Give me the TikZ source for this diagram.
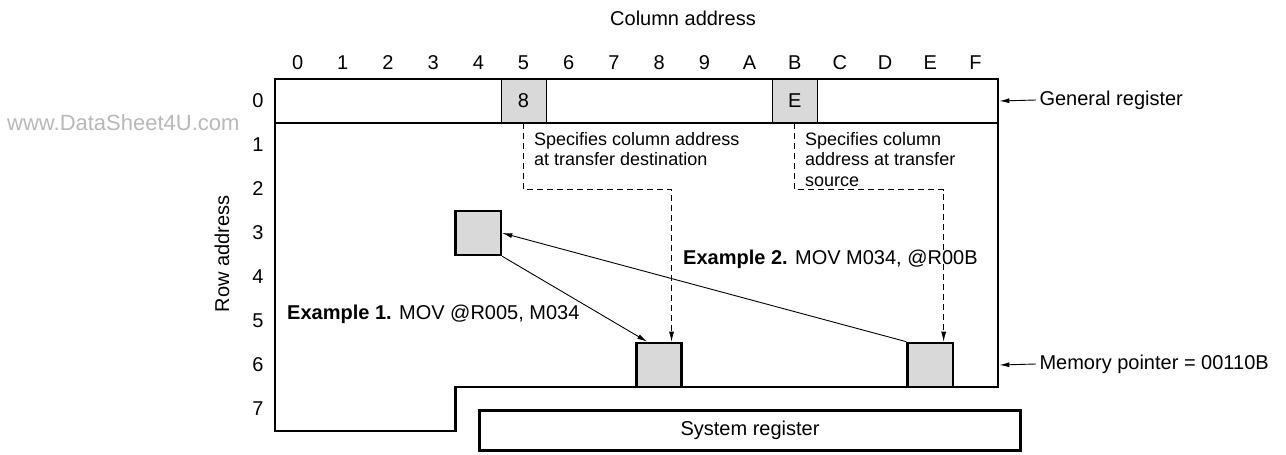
\documentclass[tikz,border=0pt]{standalone}
\usepackage{fontspec}
\setmainfont{Liberation Sans}
\usetikzlibrary{arrows.meta}
\usetikzlibrary{calc}

\begin{document}
\begin{tikzpicture}[x=1pt, y=-1pt, font=\fontsize{20}{24}\selectfont,
        frame/.style={line width=2.6pt},
        memcell/.style={draw, line width=2.6pt, fill=black!15, minimum width=45.2pt, minimum height=44pt, inner sep=0},
        regcell/.style={draw, line width=0.7pt, fill=black!15, minimum width=45.2pt, minimum height=44pt, inner sep=0},
        move/.style={-{Latex[length=10pt, width=5pt]}, line width=0.9pt},
        guide/.style={-{Latex[length=10pt, width=5pt]}, line width=0.8pt, dash pattern=on 6pt off 4pt},
        note/.style={anchor=north west, align=left, inner sep=0, font=\fontsize{18}{20.5}\selectfont}]
    \useasboundingbox (0,0) rectangle (1286,455);
    \node[text=black!28, anchor=west, inner sep=0, font=\fontsize{22}{26}\selectfont] (site) at (7,123) {www.DataSheet4U.com};
    \node (coltitle) at (683,18) {Column address};
    \node[rotate=90] (rowtitle) at (222,254) {Row address};
    \begin{scope}[shift={(275,79)}, x=45.19pt, y=-44pt]
        \node[regcell] (reg5) at (5.5,0.5) {8};
        \node[regcell] (regB) at (11.5,0.5) {E};
        \node[memcell] (m34) at (4.5,3.5) {};
        \node[memcell] (m68) at (8.5,6.5) {};
        \node[memcell] (m6E) at (14.5,6.5) {};
        \draw[frame] (0,0) -- (16,0) -- (16,7) -- (4,7) -- (4,8) -- (0,8) -- cycle;
        \draw[frame] (0,1) -- (16,1);
        \foreach \lab [count=\i from 0] in {0,1,2,3,4,5,6,7,8,9,A,B,C,D,E,F}
            \node (col\lab) at ({\i+0.5},-0.37) {\lab};
        \foreach \r in {0,...,7}
            \node (row\r) at (-0.38,{\r+0.5}) {\r};
        \coordinate (regedge) at (16.03,0.5);
        \coordinate (ptredge) at (16.03,6.5);
        \coordinate (bend1) at (5.5,2.52);
        \coordinate (bend2) at (11.5,2.52);
    \end{scope}
    \node[note] (destnote) at (534,132) {Specifies column address\\at transfer destination};
    \node[note] (srcnote) at (805,132) {Specifies column\\address at transfer\\source};
    \draw[guide] (reg5.south) -- (bend1) -| ($(m68.north west)!0.76!(m68.north east)$);
    \draw[guide] (regB.south) -- (bend2) -| ($(m6E.north west)!0.78!(m6E.north east)$);
    \draw[move] (m34.south east) -- ($(m68.north west)!0.25!(m68.north east)$);
    \draw[move] (m6E.north west) -- (m34.east);
    \node[anchor=west, inner sep=0] (ex1) at (287,314) {\textbf{Example 1.} MOV @R005, M034};
    \node[anchor=west, inner sep=0] (ex2) at (683,259) {\textbf{Example 2.} MOV M034, @R00B};
    \node[draw, line width=2.6pt, minimum width=541pt, minimum height=40pt, inner sep=0] (sysreg) at (750,430.5) {System register};
    \node[anchor=west] (genlabel) at (1036,100) {General register};
    \node[anchor=west] (ptrlabel) at (1036,364) {Memory pointer = 00110B};
    \draw[move] (genlabel.west) -- (regedge);
    \draw[move] (ptrlabel.west) -- (ptredge);
\end{tikzpicture}
\end{document}
